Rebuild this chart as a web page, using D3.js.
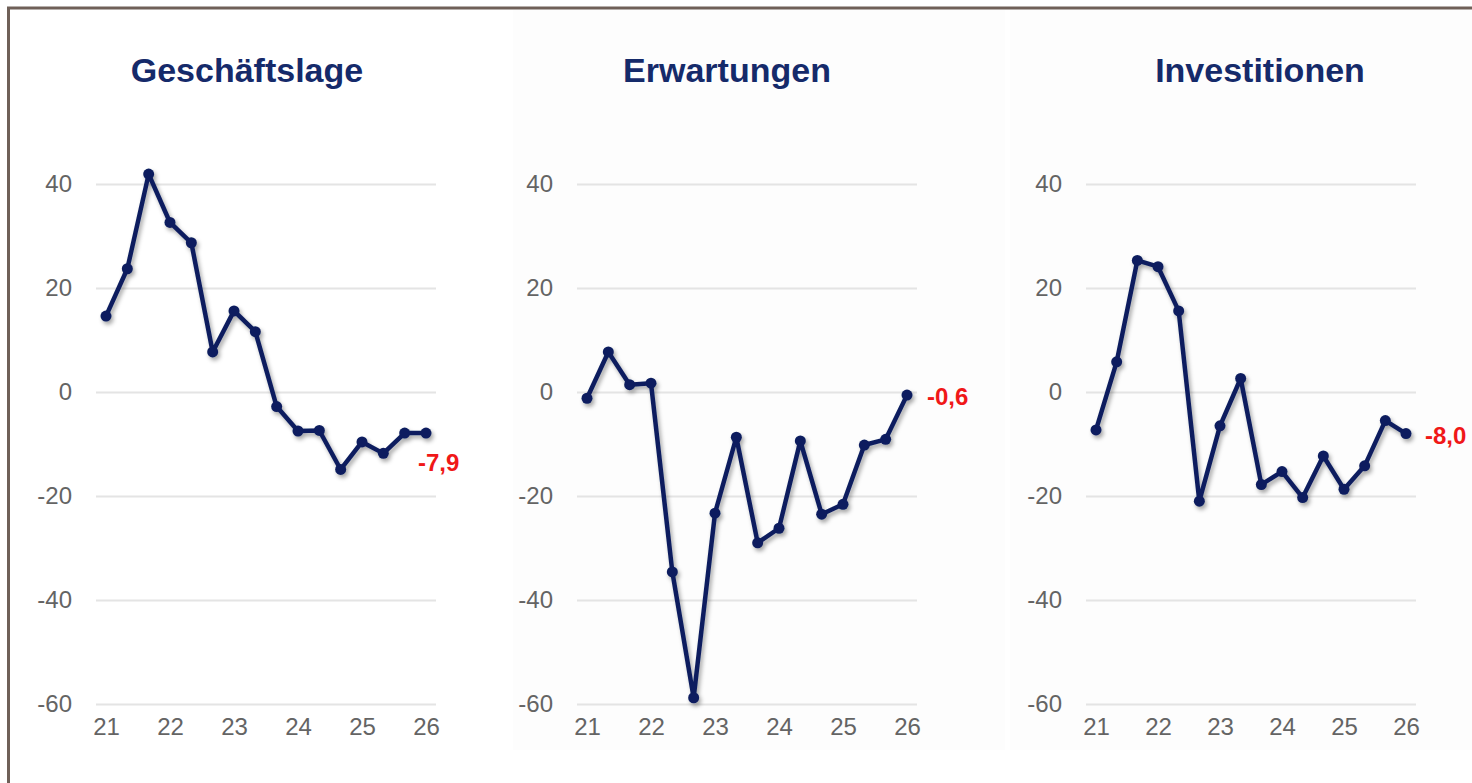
<!DOCTYPE html>
<html>
<head>
<meta charset="utf-8">
<script src="https://cdn.jsdelivr.net/npm/d3@7"></script>
<style>
  body { margin: 0; background: #fff; }
  svg { display: block; font-family: "Liberation Sans", Arial, sans-serif; }
</style>
</head>
<body>
<div id="chart"></div>
<script>
// data

var titles = ["Geschäftslage", "Erwartungen", "Investitionen"];
var periods = ["21/1", "21/2", "21/3", "22/1", "22/2", "22/3", "23/1", "23/2", "23/3",
  "24/1", "24/2", "24/3", "25/1", "25/2", "25/3", "26/1"];
var yearTicks = [21, 22, 23, 24, 25, 26];
var yTicks = [40, 20, 0, -20, -40, -60];

var geschaeftslage = [14.6, 23.7, 41.9, 32.6, 28.7, 7.7, 15.6, 11.6, -2.8, -7.5, -7.4, -14.9, -9.6, -11.8, -7.9, -7.9];
var erwartungen = [-1.2, 7.7, 1.4, 1.7, -34.6, -58.8, -23.3, -8.7, -29.0, -26.2, -9.4, -23.5, -21.6, -10.2, -9.1, -0.6];
var investitionen = [-7.3, 5.8, 25.3, 24.1, 15.6, -21.0, -6.5, 2.6, -17.8, -15.3, -20.3, -12.3, -18.7, -14.2, -5.5, -8.0];
var lastLabels = ["-7,9", "-0,6", "-8,0"];

var series = [geschaeftslage, erwartungen, investitionen];

// layout per panel (plot area in px, title centre, end label offset)
var panels = [
  { x0: 96, x1: 436, titleX: 247, lx: -8, ly: 30, bg: null },
  { x0: 577, x1: 917, titleX: 727, lx: 20, ly: 1, bg: [513, 1005] },
  { x0: 1086, x1: 1416, titleX: 1260, lx: 19, ly: 2, bg: [1010, 1472] }
];

var width = 1472, height = 783;
var navy = "#0c1f5e";
var tickColor = "#646464";

var svg = d3.select("#chart").append("svg")
  .attr("width", width)
  .attr("height", height);

var defs = svg.append("defs");
var shadow = defs.append("filter").attr("id", "shadow")
  .attr("x", "-10%").attr("y", "-10%").attr("width", "130%").attr("height", "130%");
shadow.append("feDropShadow")
  .attr("dx", 2).attr("dy", 3)
  .attr("stdDeviation", 2)
  .attr("flood-color", "#000")
  .attr("flood-opacity", 0.35);

// very faint panel backgrounds
panels.forEach(function(p) {
  if (!p.bg) return;
  svg.append("rect")
    .attr("x", p.bg[0]).attr("y", 10)
    .attr("width", p.bg[1] - p.bg[0]).attr("height", 740)
    .attr("fill", "#fdfdfd");
});

// frame (top and left)
svg.append("line").attr("x1", 7).attr("x2", width).attr("y1", 8).attr("y2", 8)
  .attr("stroke", "#6f6058").attr("stroke-width", 3);
svg.append("line").attr("x1", 8.5).attr("x2", 8.5).attr("y1", 7).attr("y2", height)
  .attr("stroke", "#6f6058").attr("stroke-width", 3);

var y = d3.scaleLinear().domain([-60, 40]).range([704, 184]);

panels.forEach(function(p, k) {
  var g = svg.append("g");

  var x = d3.scaleLinear().domain([21, 26]).range([p.x0 + 10, p.x1 - 10]);
  var xp = d3.scalePoint().domain(periods).range([x(21), x(26)]);

  // title
  g.append("text")
    .attr("x", p.titleX).attr("y", 82)
    .attr("text-anchor", "middle")
    .attr("font-size", 34)
    .attr("font-weight", "bold")
    .attr("fill", "#152a6a")
    .text(titles[k]);

  // gridlines + y labels
  var yAxis = g.append("g")
    .attr("transform", "translate(" + p.x0 + ",0)")
    .call(d3.axisLeft(y).tickValues(yTicks).tickSize(-(p.x1 - p.x0)).tickPadding(24)
      .tickFormat(function(d) { return String(d); }));
  yAxis.select(".domain").remove();
  yAxis.selectAll(".tick line").attr("stroke", "#e4e4e4").attr("stroke-width", 2);
  yAxis.selectAll(".tick text")
    .attr("fill", tickColor)
    .attr("font-size", 24)
    .attr("font-family", "'Liberation Sans', Arial, sans-serif");

  // x labels
  var xAxis = g.append("g")
    .attr("transform", "translate(0,704)")
    .call(d3.axisBottom(x).tickValues(yearTicks).tickSize(0).tickPadding(14)
      .tickFormat(d3.format("d")));
  xAxis.select(".domain").remove();
  xAxis.selectAll(".tick text")
    .attr("fill", tickColor)
    .attr("font-size", 24)
    .attr("font-family", "'Liberation Sans', Arial, sans-serif");

  // line + points
  var vals = series[k];
  var line = d3.line()
    .x(function(d, i) { return xp(periods[i]); })
    .y(function(d) { return y(d); });

  var marks = g.append("g").attr("filter", "url(#shadow)");
  marks.append("path")
    .datum(vals)
    .attr("d", line)
    .attr("fill", "none")
    .attr("stroke", navy)
    .attr("stroke-width", 4.5)
    .attr("stroke-linejoin", "round");

  marks.selectAll("circle")
    .data(vals)
    .enter().append("circle")
    .attr("cx", function(d, i) { return xp(periods[i]); })
    .attr("cy", function(d) { return y(d); })
    .attr("r", 5.5)
    .attr("fill", navy);

  // last value label
  var last = vals.length - 1;
  g.append("text")
    .attr("x", xp(periods[last]) + p.lx)
    .attr("y", y(vals[last]) + p.ly)
    .attr("dy", "0.35em")
    .attr("font-size", 24)
    .attr("font-weight", "bold")
    .attr("fill", "#f01818")
    .text(lastLabels[k]);
});
</script>
</body>
</html>
